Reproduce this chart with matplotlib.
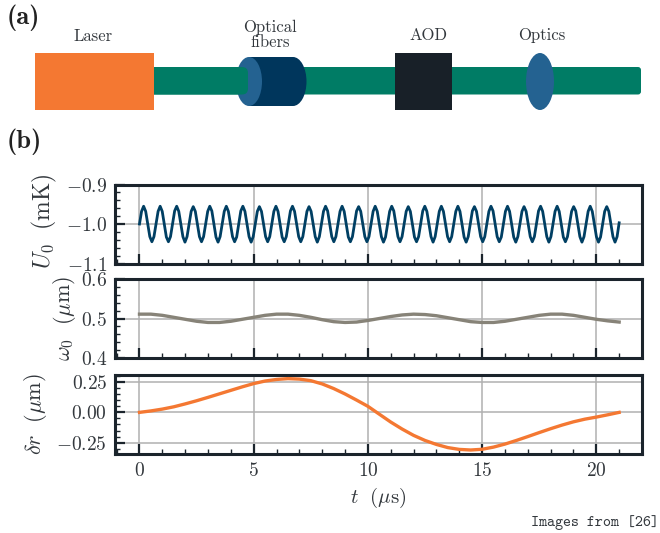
import numpy as np
import matplotlib
matplotlib.use('Agg')
import matplotlib.pyplot as plt
from matplotlib.patches import Rectangle, Ellipse, FancyBboxPatch
from matplotlib.ticker import MultipleLocator

plt.rcParams['font.family'] = ['cmr10', 'DejaVu Serif']
plt.rcParams['mathtext.fontset'] = 'cm'
plt.rcParams['axes.unicode_minus'] = False

# values
U0_values = [
    -1.000, -0.968, -0.955, -0.968, -1.000, -1.032, -1.045, -1.032,
    -1.000, -0.968, -0.955, -0.968, -1.000, -1.033, -1.045, -1.032,
    -1.000, -0.967, -0.955, -0.968, -1.000, -1.032, -1.046, -1.032,
    -1.000, -0.968, -0.956, -0.968, -1.000, -1.032, -1.045, -1.032,
    -1.000, -0.968, -0.955, -0.967, -1.000, -1.033, -1.046, -1.032,
    -1.000, -0.968, -0.955, -0.968, -1.000, -1.032, -1.045, -1.033,
    -1.000, -0.967, -0.955, -0.968, -1.000, -1.032, -1.046, -1.032,
    -1.000, -0.968, -0.956, -0.968, -1.000, -1.032, -1.045, -1.032,
    -1.000, -0.968, -0.955, -0.968, -1.000, -1.033, -1.045, -1.032,
    -1.000, -0.967, -0.955, -0.968, -1.000, -1.032, -1.045, -1.032,
    -1.000, -0.968, -0.956, -0.968, -1.000, -1.032, -1.046, -1.032,
    -1.000, -0.968, -0.955, -0.967, -1.000, -1.032, -1.045, -1.032,
    -1.000, -0.968, -0.955, -0.968, -1.000, -1.033, -1.045, -1.032,
    -1.000, -0.967, -0.956, -0.968, -1.000, -1.032, -1.045, -1.032,
    -1.000, -0.968, -0.955, -0.968, -1.000, -1.032, -1.046, -1.033,
    -1.000, -0.968, -0.955, -0.967, -1.000, -1.032, -1.045, -1.032,
    -1.000, -0.968, -0.956, -0.968, -1.000, -1.033, -1.045, -1.032,
    -1.000, -0.967, -0.955, -0.968, -1.000, -1.032, -1.046, -1.032,
    -1.000, -0.968, -0.955, -0.968, -1.000, -1.032, -1.045, -1.032,
    -1.000, -0.968, -0.955, -0.968, -1.000, -1.033, -1.046, -1.032,
    -1.000, -0.967, -0.956, -0.968, -1.000, -1.032, -1.045, -1.032,
    -1.000, -0.968, -0.955, -0.967, -1.000, -1.032, -1.045, -1.033,
    -1.000, -0.968, -0.955, -0.968, -1.000, -1.033, -1.046, -1.032,
    -1.000, -0.968, -0.956, -0.968, -1.000, -1.032, -1.045, -1.032,
    -1.000, -0.967, -0.955, -0.968, -1.000, -1.032, -1.046, -1.032,
    -1.000, -0.968, -0.955, -0.968, -1.000, -1.033, -1.045, -1.032,
    -1.000, -0.968, -0.956, -0.967, -1.000, -1.032, -1.046, -1.032,
    -1.000, -0.968, -0.955, -0.968, -1.000, -1.032, -1.046, -1.033,
    -1.000, -0.968, -0.956, -0.968, -1.000, -1.032, -1.046, -1.032,
    -0.997,
]
w0_values = [
    0.511, 0.511, 0.508, 0.503, 0.498, 0.493, 0.490, 0.490, 0.493, 0.498,
    0.503, 0.508, 0.511, 0.511, 0.508, 0.503, 0.497, 0.492, 0.490, 0.491,
    0.495, 0.500, 0.505, 0.509, 0.511, 0.510, 0.507, 0.502, 0.497, 0.492,
    0.490, 0.490, 0.493, 0.498, 0.503, 0.508, 0.511, 0.511, 0.508, 0.503,
    0.498, 0.494, 0.491,
]
dr_values = [
    0.000, 0.012, 0.027, 0.046, 0.070, 0.096, 0.124, 0.153, 0.182, 0.211,
    0.238, 0.259, 0.272, 0.279, 0.275, 0.262, 0.235, 0.197, 0.152, 0.102,
    0.050, -0.015, -0.080, -0.138, -0.190, -0.232, -0.265, -0.291, -0.306, -0.311,
    -0.305, -0.287, -0.262, -0.232, -0.200, -0.167, -0.135, -0.105, -0.078, -0.056,
    -0.039, -0.020, 0.000,
]
t_fast = np.linspace(0, 21, len(U0_values))
t_slow = np.linspace(0, 21, len(w0_values))

x_ticks = [0, 5, 10, 15, 20]
x_labels = ['$0$', '$5$', '$10$', '$15$', '$20$']
U0_ticks = [-1.1, -1.0, -0.9]
U0_labels = ['$-1.1$', '$-1.0$', '$-0.9$']
w0_ticks = [0.4, 0.5, 0.6]
w0_labels = ['$0.4$', '$0.5$', '$0.6$']
dr_ticks = [-0.25, 0.0, 0.25]
dr_labels = ['$-0.25$', '$0.00$', '$0.25$']

W, H = 660, 533
DARK = '#1b242c'
TEXT = '#33383d'
ORANGE = '#f47832'
GREEN = '#007c65'
BLUE = '#246291'
NAVY = '#00365c'

fig = plt.figure(figsize=(W / 100, H / 100), dpi=100)


def add_panel(top, bottom, y, color, lw, ylim, yticks, ylabels, minor, ylabel, t, label_x, label_y=0.5, label_size=16):
    ax = fig.add_axes([115.5 / W, 1 - bottom / H, (642 - 115.5) / W, (bottom - top) / H])
    ax.plot(t, y, color=color, lw=lw, zorder=3)
    ax.set_xlim(-1.05, 22.0)
    ax.set_ylim(*ylim)
    ax.set_xticks(x_ticks)
    ax.set_yticks(yticks)
    ax.set_yticklabels(ylabels, fontsize=14, color=TEXT)
    ax.xaxis.set_minor_locator(MultipleLocator(1))
    ax.yaxis.set_minor_locator(MultipleLocator(minor))
    ax.grid(True, which='major', color='#b0b0b0', lw=1.1)
    ax.set_axisbelow(True)
    ax.tick_params(which='major', direction='in', length=7, width=1.6, color=DARK, pad=6, top=False, right=False)
    ax.tick_params(which='minor', direction='in', length=3.5, width=1.0, color=DARK, top=False, right=False)
    for s in ax.spines.values():
        s.set_linewidth(2.2)
        s.set_color(DARK)
    ax.set_ylabel(ylabel, fontsize=label_size, color=TEXT)
    ax.yaxis.set_label_coords(label_x, label_y)
    return ax


ax1 = add_panel(184.5, 263.5, U0_values, '#003f63', 2.0, (-1.1, -0.9), U0_ticks, U0_labels, 0.02,
                r'$U_0\ \ (\mathrm{mK})$', t_fast, -0.107, 0.54, 17)
ax2 = add_panel(279, 358, w0_values, '#878378', 2.4, (0.4, 0.6), w0_ticks, w0_labels, 0.02,
                r'$\omega_0\ \ (\mu\mathrm{m})$', t_slow, -0.072)
ax3 = add_panel(374.5, 454, dr_values, ORANGE, 2.4, (-0.344, 0.313), dr_ticks, dr_labels, 0.05,
                r'$\delta r\ \ (\mu\mathrm{m})$', t_slow, -0.126)
ax1.tick_params(labelbottom=False)
ax2.tick_params(labelbottom=False)
ax3.set_xticks(x_ticks)
ax3.set_xticklabels(x_labels, fontsize=14, color=TEXT)
ax3.set_xlabel(r'$t\ \ (\mu\mathrm{s})$', fontsize=15, color=TEXT, labelpad=4)

# schematic on top in pixel coordinates
sk = fig.add_axes([0, 0, 1, 1], zorder=-1)
sk.set_xlim(0, W)
sk.set_ylim(H, 0)
sk.axis('off')
sk.add_patch(FancyBboxPatch((140, 67), 501, 27.5, boxstyle='round,pad=0,rounding_size=3', fc=GREEN, ec='none', zorder=1))
sk.add_patch(Rectangle((35, 53), 119, 57, fc=ORANGE, ec='none', zorder=5))
sk.add_patch(Ellipse((293, 81.5), 27, 49, fc=NAVY, ec='none', zorder=2))
sk.add_patch(Rectangle((249, 57), 44, 49, fc=NAVY, ec='none', zorder=2))
sk.add_patch(Ellipse((249, 81.5), 26, 49, fc=BLUE, ec='none', zorder=3))
sk.add_patch(FancyBboxPatch((140, 67), 108, 27.5, boxstyle='round,pad=0,rounding_size=6', fc=GREEN, ec='none', zorder=4))
sk.add_patch(Rectangle((395, 53), 57, 57, fc='#182028', ec='none', zorder=2))
sk.add_patch(Ellipse((540, 81.5), 28, 57, fc=BLUE, ec='none', zorder=2))

sk.text(93.5, 36, 'Laser', fontsize=12, color=TEXT, ha='center', va='center')
sk.text(270, 35, 'Optical\nfibers', fontsize=12, color=TEXT, ha='center', va='center', linespacing=0.95)
sk.text(428, 35.5, 'AOD', fontsize=12, color=TEXT, ha='center', va='center')
sk.text(542, 35.5, 'Optics', fontsize=12, color=TEXT, ha='center', va='center')
sk.text(7, 18, '(a)', fontsize=19, family='cmb10', color='#222222', ha='left', va='center')
sk.text(7, 142, '(b)', fontsize=19, family='cmb10', color='#222222', ha='left', va='center')
sk.text(659, 523, 'Images from [26]', fontsize=11, family='cmtt10', color=TEXT, ha='right', va='center')

fig.savefig('out.png', dpi=100)
